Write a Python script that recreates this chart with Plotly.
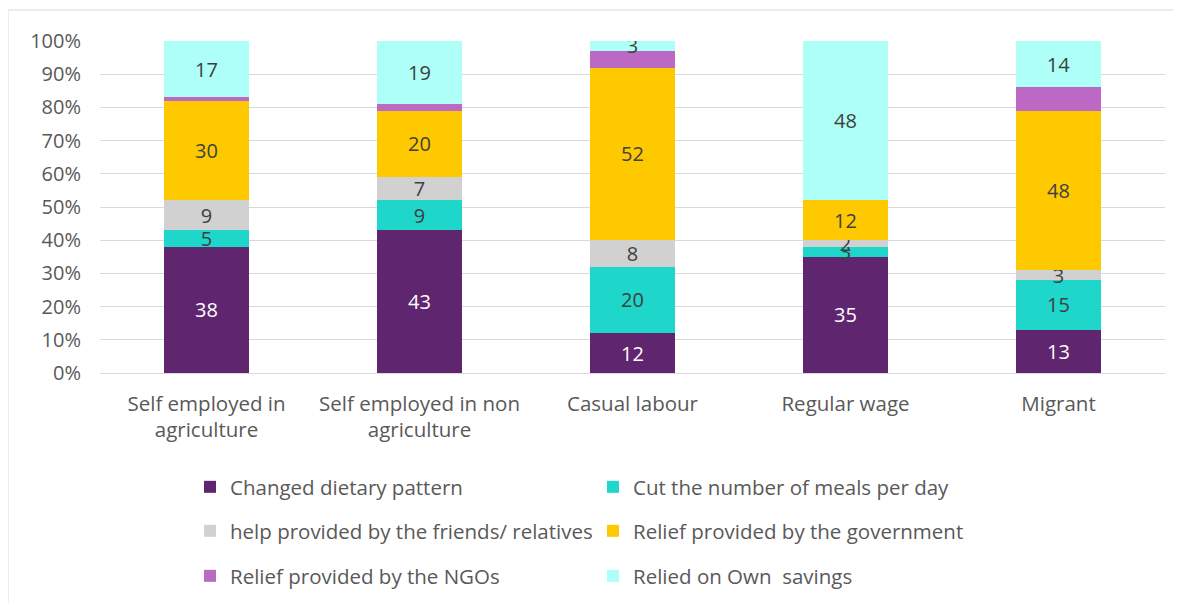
import plotly.graph_objects as go

categories = ["Self employed in<br>agriculture", "Self employed in non<br>agriculture",
              "Casual labour", "Regular wage", "Migrant"]

series_names = ["Changed dietary pattern", "Cut the number of meals per day",
                "help provided by the friends/ relatives", "Relief provided by the government",
                "Relief provided by the NGOs", "Relied on Own  savings"]

changed_diet = [38, 43, 12, 35, 13]
cut_meals = [5, 9, 20, 3, 15]
help_friends = [9, 7, 8, 2, 3]
relief_gov = [30, 20, 52, 12, 48]
relief_ngo = [1, 2, 5, 0, 7]
own_savings = [17, 19, 3, 48, 14]

series_values = [changed_diet, cut_meals, help_friends, relief_gov, relief_ngo, own_savings]
colors = ["#5F256F", "#1ED6C9", "#D1D1D1", "#FFC900", "#BC69C6", "#ADFFF8"]
text_colors = ["#FFFFFF", "#404040", "#404040", "#404040", "#404040", "#404040"]
show_labels = [True, True, True, True, False, True]
legend_ids = ["legend", "legend", "legend2", "legend2", "legend3", "legend3"]

FONT = "Open Sans"
OFF = 8  # page offset of the figure inside the browser window

fig = go.Figure()
for name, vals, col, tcol, show, lg in zip(series_names, series_values, colors, text_colors,
                                           show_labels, legend_ids):
    fig.add_trace(go.Bar(
        x=categories, y=vals, name=name, marker=dict(color=col, line=dict(width=0)),
        width=0.395,
        text=[str(v) for v in vals] if show else None,
        textposition="inside" if show else "none",
        insidetextanchor="middle", textangle=0,
        textfont=dict(color=tcol, size=20, family=FONT),
        legend=lg, hoverinfo="name+y",
    ))

W, H = 1181, 603
L, R, T, B = 100 - OFF, 24, 41 - OFF, 603 - (373 - OFF)
pw, ph = W - L - R, H - T - B

def px_x(p):
    return (p - OFF - L) / pw

def px_y(p):
    return (H - B - (p - OFF)) / ph

legend_common = dict(orientation="h", x=px_x(190), xanchor="left", yanchor="middle",
                     entrywidth=358, entrywidthmode="pixels", itemwidth=30,
                     font=dict(size=20.5, color="#595959", family=FONT),
                     bgcolor="rgba(0,0,0,0)", traceorder="normal")

frame = dict(color="#D9D9D9", width=1)

fig.update_layout(
    width=W, height=H,
    barmode="stack", barnorm="percent",
    margin=dict(l=L, r=R, t=T, b=B, autoexpand=False),
    paper_bgcolor="white", plot_bgcolor="white",
    font=dict(family=FONT, color="#595959"),
    uniformtext=dict(minsize=20, mode="show"),
    xaxis=dict(showgrid=False, showline=True, linecolor="#D9D9D9", linewidth=1,
               tickfont=dict(size=20.5, color="#595959", family=FONT), ticks="",
               ticklabelstandoff=12, range=[-0.5, 4.5]),
    yaxis=dict(range=[0, 100], dtick=10, ticksuffix="%", showgrid=True, gridcolor="#D9D9D9",
               gridwidth=1, zeroline=False, showline=False, ticklabelstandoff=18,
               tickfont=dict(size=20, color="#595959", family=FONT), ticks=""),
    legend=dict(**legend_common, y=px_y(487)),
    legend2=dict(**legend_common, y=px_y(531)),
    legend3=dict(**legend_common, y=px_y(576)),
    shapes=[
        dict(type="line", xref="paper", yref="paper",
             x0=px_x(8), x1=px_x(8), y0=px_y(610), y1=px_y(10), line=frame, layer="below"),
        dict(type="line", xref="paper", yref="paper",
             x0=px_x(8), x1=px_x(1190), y0=px_y(10), y1=px_y(10), line=frame, layer="below"),
    ],
)

fig.write_html("out.html")
